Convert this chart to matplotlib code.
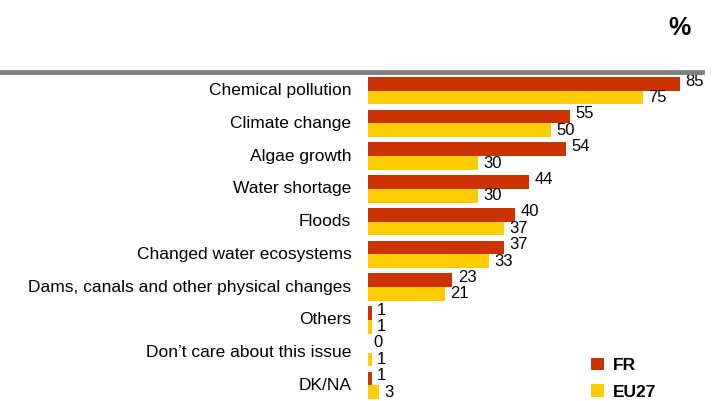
import matplotlib
matplotlib.use("Agg")
import matplotlib.pyplot as plt
import numpy as np

plt.rcParams['font.family'] = ['Liberation Sans', 'DejaVu Sans']

categories = ["Chemical pollution", "Climate change", "Algae growth", "Water shortage",
              "Floods", "Changed water ecosystems", "Dams, canals and other physical changes",
              "Others", "Don\u2019t care about this issue", "DK/NA"]
fr_values = [85, 55, 54, 44, 40, 37, 23, 1, 0, 1]
eu_values = [75, 50, 30, 30, 37, 33, 21, 1, 1, 3]
series_names = ["FR", "EU27"]

RED = "#CC3300"
YELLOW = "#FFCC00"

W, H = 714, 401
fig = plt.figure(figsize=(W / 100, H / 100), dpi=100)

# axes placed in pixel terms: left edge where bars start, rows ~32.7px apart
ax = fig.add_axes([368 / W, 0, 330 / W, (401 - 75) / H])
y = np.arange(len(categories))
bh = 0.42
ax.barh(y - bh / 2, fr_values, height=bh, color=RED, label=series_names[0])
ax.barh(y + bh / 2, eu_values, height=bh, color=YELLOW, label=series_names[1])
ax.set_xlim(0, 90)
ax.set_ylim(9.48, -0.48)
ax.axis("off")

for i, (f, e) in enumerate(zip(fr_values, eu_values)):
    ax.annotate(str(f), (f, i - bh / 2), xytext=(4, 2), textcoords="offset points",
                va="center", ha="left", fontsize=12)
    ax.annotate(str(e), (e, i + bh / 2), xytext=(4, 0), textcoords="offset points",
                va="center", ha="left", fontsize=12)
    ax.annotate(categories[i], (0, i), xytext=(-12, 0), textcoords="offset points",
                va="center", ha="right", fontsize=12.5)

# header: grey rule and percent sign
fig.add_artist(plt.Line2D([0, 702 / W], [1 - 72 / H, 1 - 72 / H], color="#808080", lw=3.5))
fig.text(691 / W, 1 - 28 / H, "%", ha="right", va="center", fontsize=18, fontweight="bold")

ax.legend(loc="upper left", bbox_to_anchor=(582 / W, 1 - 349 / H),
          bbox_transform=fig.transFigure, frameon=False,
          handlelength=0.75, handleheight=0.75, handletextpad=0.5, labelspacing=0.65,
          prop={"weight": "bold", "size": 12.5}, borderpad=0)

fig.savefig("out.png", dpi=100)
